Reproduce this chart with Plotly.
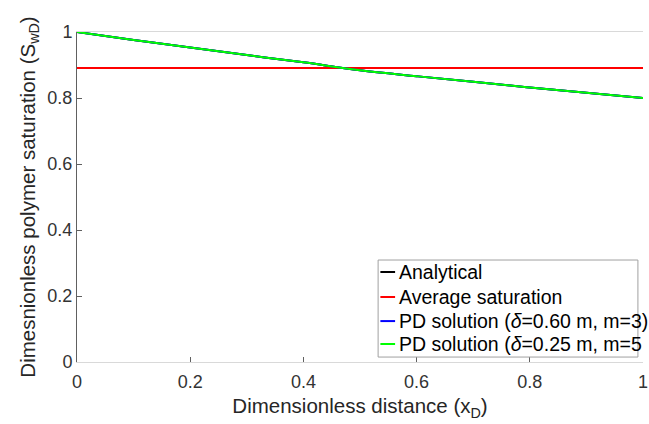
import plotly.graph_objects as go

# Dimensionless distance and saturation profiles
x_d = [0.0, 0.1, 0.2, 0.3, 0.4, 0.5, 0.6, 0.7, 0.8, 0.9, 1.0]
s_analytical = [1.000, 0.976, 0.953, 0.930, 0.908, 0.884, 0.866, 0.849, 0.832, 0.816, 0.800]
s_pd_060 = [1.000, 0.976, 0.953, 0.930, 0.908, 0.884, 0.866, 0.849, 0.832, 0.816, 0.800]
s_pd_025 = [1.000, 0.976, 0.953, 0.930, 0.908, 0.884, 0.866, 0.849, 0.832, 0.816, 0.800]
s_average = 0.891

x_ticks = [0, 0.2, 0.4, 0.6, 0.8, 1]
x_tick_text = ["0", "0.2", "0.4", "0.6", "0.8", "1"]
y_ticks = [0, 0.2, 0.4, 0.6, 0.8, 1]
y_tick_text = ["0", "0.2", "0.4", "0.6", "0.8", "1"]

series_names = [
    "Analytical",
    "Average saturation",
    "PD solution (<i>δ</i>=0.60 m, m=3)",
    "PD solution (<i>δ</i>=0.25 m, m=5",
]
series_colors = ["#000000", "#ff0000", "#0000ff", "#00ff00"]

fig = go.Figure()
fig.add_trace(go.Scatter(x=x_d, y=s_analytical, mode="lines", name=series_names[0],
                         line=dict(color=series_colors[0], width=2), line_shape="spline"))
fig.add_trace(go.Scatter(x=[x_d[0], x_d[-1]], y=[s_average, s_average], mode="lines",
                         name=series_names[1], line=dict(color=series_colors[1], width=2)))
fig.add_trace(go.Scatter(x=x_d, y=s_pd_060, mode="lines", name=series_names[2],
                         line=dict(color=series_colors[2], width=2), line_shape="spline"))
fig.add_trace(go.Scatter(x=x_d, y=s_pd_025, mode="lines", name=series_names[3],
                         line=dict(color=series_colors[3], width=2), line_shape="spline"))

font_family = "Liberation Sans, Arial, sans-serif"

# Compact boxed legend in the lower-right corner of the axes
legend_box = dict(x0=0.532, x1=0.991, y0=0.015, y1=0.309)
legend_rows = [0.2727, 0.197, 0.124, 0.0545]
sample_x0, sample_x1, label_x = 0.536, 0.562, 0.566

shapes = [dict(type="rect", xref="x", yref="y", layer="above",
               fillcolor="white", line=dict(color="#a0a0a0", width=1), **legend_box)]
annotations = []
for name, color, ry in zip(series_names, series_colors, legend_rows):
    shapes.append(dict(type="line", xref="x", yref="y", layer="above",
                       x0=sample_x0, x1=sample_x1, y0=ry, y1=ry,
                       line=dict(color=color, width=2)))
    annotations.append(dict(x=label_x, y=ry, xref="x", yref="y", text=name,
                            showarrow=False, xanchor="left", yanchor="middle",
                            font=dict(size=19.5, color="#000000", family=font_family)))

fig.update_layout(
    width=649, height=424,
    margin=dict(l=77, r=1, t=32, b=62),
    paper_bgcolor="white", plot_bgcolor="white",
    font=dict(family=font_family, size=18, color="#262626"),
    showlegend=False,
    shapes=shapes,
    annotations=annotations,
    xaxis=dict(
        range=[0, 1], tickvals=x_ticks, ticktext=x_tick_text,
        showgrid=False, zeroline=False,
        showline=True, linecolor="#d9d9d9", linewidth=1, mirror=True,
        ticks="inside", ticklen=5, tickcolor="#606060",
        tickfont=dict(size=18, color="#333333"),
        ticklabeloverflow="allow", ticklabelstandoff=3,
        title=dict(text="Dimensionless distance (x<sub>D</sub>)",
                   font=dict(size=20.5, color="#262626"), standoff=8),
    ),
    yaxis=dict(
        range=[0, 1], tickvals=y_ticks, ticktext=y_tick_text,
        showgrid=False, zeroline=False,
        showline=True, linecolor="#606060", linewidth=1,
        ticks="inside", ticklen=5, tickcolor="#606060",
        tickfont=dict(size=18, color="#333333"),
        title=dict(text="Dimesnionless polymer saturation (S<sub>wD</sub>)",
                   font=dict(size=20.5, color="#262626"), standoff=6),
    ),
)

fig.write_html("out.html")
